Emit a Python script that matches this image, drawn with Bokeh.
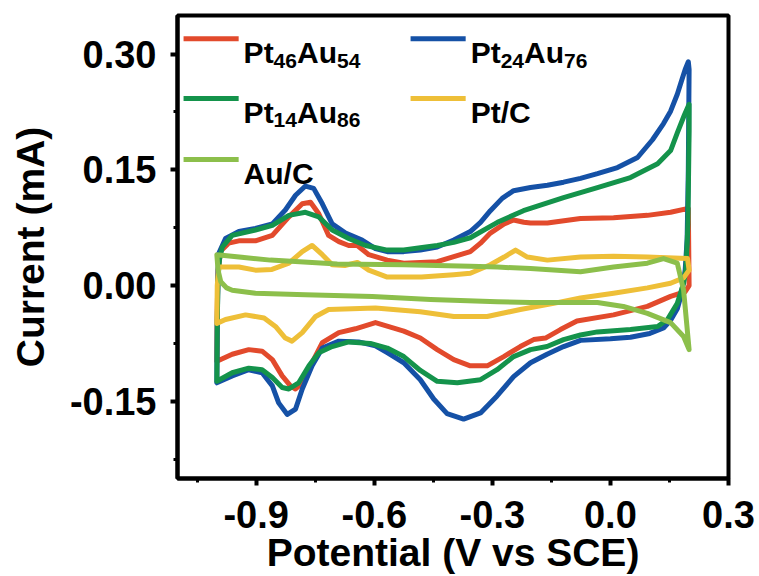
from bokeh.plotting import figure
from bokeh.models import Range1d, SingleIntervalTicker, NumeralTickFormatter, Label
from bokeh.embed import file_html
from bokeh.resources import INLINE

# ---------------- data ----------------
x_label = "Potential (V vs SCE)"
y_label = "Current (mA)"
x_ticks = [-0.9, -0.6, -0.3, 0.0, 0.3]
y_ticks = [-0.15, 0.0, 0.15, 0.30]

# Pt46Au54 (anodic sweep then cathodic sweep)
red_x = [-1.0, -0.999, -0.997, -0.99, -0.97, -0.944, -0.902, -0.859, -0.817, -0.783, -0.762, -0.741,
         -0.716, -0.69, -0.665, -0.643, -0.614, -0.567, -0.525, -0.44, -0.356, -0.33, -0.305, -0.27,
         -0.246, -0.22, -0.203, -0.16, -0.076, 0.008, 0.094, 0.153, 0.198,
         0.2, 0.19, 0.153, 0.094, 0.008, -0.085, -0.127, -0.165, -0.195, -0.229, -0.271, -0.313,
         -0.356, -0.398, -0.44, -0.483, -0.525, -0.597, -0.648, -0.69, -0.732, -0.758, -0.783, -0.8,
         -0.813, -0.834, -0.859, -0.885, -0.919, -0.961, -1.0]
red_y = [-0.098, -0.03, 0.02, 0.045, 0.055, 0.058, 0.058, 0.065, 0.089, 0.106, 0.108, 0.093,
         0.065, 0.057, 0.052, 0.052, 0.04, 0.033, 0.029, 0.031, 0.044, 0.055, 0.068, 0.08,
         0.085, 0.082, 0.081, 0.081, 0.087, 0.088, 0.091, 0.095, 0.1,
         0.0, -0.008, -0.014, -0.027, -0.038, -0.046, -0.057, -0.068, -0.07, -0.079, -0.092, -0.104,
         -0.104, -0.096, -0.083, -0.068, -0.059, -0.048, -0.056, -0.061, -0.074, -0.1, -0.126, -0.134,
         -0.13, -0.117, -0.096, -0.085, -0.083, -0.089, -0.098]

# Pt24Au76
blue_x = [-1.0, -0.999, -0.997, -0.995, -0.978, -0.944, -0.902, -0.859, -0.826, -0.8, -0.775, -0.754,
          -0.732, -0.707, -0.673, -0.631, -0.597, -0.567, -0.525, -0.483, -0.44, -0.398, -0.356, -0.33,
          -0.305, -0.275, -0.246, -0.203, -0.16, -0.119, -0.076, -0.033, 0.018, 0.069, 0.107, 0.135,
          0.153, 0.17, 0.18, 0.19, 0.198,
          0.2, 0.198, 0.195, 0.19, 0.18, 0.17, 0.153, 0.135, 0.1, 0.051, 0.0, -0.076, -0.119, -0.161,
          -0.203, -0.246, -0.288, -0.33, -0.373, -0.415, -0.449, -0.483, -0.525, -0.567, -0.597, -0.64,
          -0.69, -0.732, -0.758, -0.783, -0.8, -0.821, -0.843, -0.859, -0.885, -0.919, -0.961, -1.0]
blue_y = [-0.126, -0.05, 0.02, 0.042, 0.061, 0.07, 0.074, 0.08, 0.098, 0.117, 0.129, 0.126,
          0.106, 0.08, 0.068, 0.059, 0.048, 0.044, 0.044, 0.046, 0.05, 0.059, 0.07, 0.082,
          0.097, 0.113, 0.123, 0.127, 0.13, 0.134, 0.139, 0.145, 0.153, 0.166, 0.189, 0.21,
          0.226, 0.248, 0.264, 0.28, 0.29,
          0.28, 0.15, 0.06, 0.02, -0.012, -0.03, -0.045, -0.055, -0.062, -0.067, -0.069, -0.071, -0.079, -0.089,
          -0.1, -0.118, -0.143, -0.165, -0.173, -0.166, -0.147, -0.122, -0.1, -0.087, -0.078, -0.073,
          -0.072, -0.081, -0.104, -0.134, -0.16, -0.167, -0.152, -0.13, -0.113, -0.109, -0.117, -0.126]

# Pt14Au86
green_x = [-1.0, -0.999, -0.997, -0.993, -0.986, -0.961, -0.902, -0.859, -0.817, -0.775, -0.741, -0.707,
           -0.665, -0.622, -0.567, -0.525, -0.483, -0.44, -0.398, -0.356, -0.287, -0.221, -0.119, -0.033,
           0.051, 0.12, 0.153, 0.17, 0.188, 0.2,
           0.2, 0.197, 0.192, 0.186, 0.17, 0.145, 0.12, 0.051, -0.033, -0.076, -0.119, -0.161, -0.203,
           -0.246, -0.288, -0.33, -0.389, -0.44, -0.483, -0.525, -0.567, -0.61, -0.665, -0.707, -0.741,
           -0.766, -0.792, -0.817, -0.834, -0.859, -0.885, -0.919, -0.961, -1.0]
green_y = [-0.124, -0.05, 0.01, 0.035, 0.05, 0.065, 0.072, 0.078, 0.091, 0.095, 0.089, 0.072,
           0.061, 0.052, 0.046, 0.046, 0.049, 0.052, 0.056, 0.062, 0.082, 0.097, 0.114, 0.127,
           0.14, 0.158, 0.175, 0.198, 0.221, 0.235,
           0.2, 0.08, 0.02, 0.003, -0.023, -0.044, -0.053, -0.057, -0.06, -0.064, -0.07, -0.079, -0.083,
           -0.092, -0.109, -0.122, -0.126, -0.124, -0.11, -0.092, -0.081, -0.075, -0.073, -0.079, -0.087,
           -0.104, -0.126, -0.134, -0.132, -0.119, -0.109, -0.107, -0.113, -0.124]

# Pt/C
yellow_x = [-1.0, -0.999, -0.995, -0.944, -0.902, -0.86, -0.817, -0.783, -0.758, -0.732, -0.707, -0.675,
            -0.643, -0.614, -0.567, -0.48, -0.398, -0.356, -0.305, -0.27, -0.241, -0.211, -0.16, -0.076,
            0.008, 0.094, 0.196,
            0.2, 0.186, 0.153, 0.094, 0.008, -0.076, -0.144, -0.229, -0.313, -0.398, -0.483, -0.597,
            -0.716, -0.749, -0.783, -0.809, -0.826, -0.851, -0.88, -0.927, -0.978, -1.0]
yellow_y = [-0.049, 0.0, 0.024, 0.024, 0.02, 0.021, 0.029, 0.044, 0.052, 0.04, 0.027, 0.026,
            0.03, 0.02, 0.011, 0.011, 0.014, 0.016, 0.027, 0.037, 0.046, 0.037, 0.033, 0.037,
            0.038, 0.037, 0.035,
            0.02, 0.01, 0.003, -0.003, -0.01, -0.016, -0.023, -0.031, -0.04, -0.04, -0.034, -0.029,
            -0.031, -0.04, -0.061, -0.072, -0.068, -0.053, -0.042, -0.038, -0.044, -0.049]

# Au/C
lime_x = [-1.0, -0.864, -0.694, -0.525, -0.356, -0.287, -0.203, -0.076, 0.008, 0.094, 0.135, 0.17,
          0.186, 0.2,
          0.186, 0.153, 0.094, 0.033, -0.033, -0.119, -0.203, -0.287, -0.457, -0.605, -0.775, -0.902,
          -0.961, -0.975, -0.99, -0.997, -1.0]
lime_y = [0.04, 0.033, 0.028, 0.027, 0.025, 0.024, 0.022, 0.018, 0.024, 0.029, 0.035, 0.029,
          -0.006, -0.083,
          -0.066, -0.048, -0.036, -0.027, -0.022, -0.022, -0.022, -0.021, -0.018, -0.014, -0.012, -0.01,
          -0.006, -0.003, 0.005, 0.02, 0.04]

# legend pieces: (text, is_subscript)
series = [
    ("red", [("Pt", False), ("46", True), ("Au", False), ("54", True)]),
    ("blue", [("Pt", False), ("24", True), ("Au", False), ("76", True)]),
    ("green", [("Pt", False), ("14", True), ("Au", False), ("86", True)]),
    ("yellow", [("Pt/C", False)]),
    ("lime", [("Au/C", False)]),
]

# ---------------- styles ----------------
colors = {"red": "#E24A2C", "blue": "#1551A6", "green": "#14934B", "yellow": "#EEBF38", "lime": "#8CBF4B"}
curves = {"red": (red_x, red_y), "blue": (blue_x, blue_y), "green": (green_x, green_y),
          "yellow": (yellow_x, yellow_y), "lime": (lime_x, lime_y)}
FONT = "Liberation Sans"
X0, X1, Y0, Y1 = -1.1, 0.3001, -0.25, 0.35

p = figure(output_backend="svg", toolbar_location=None,
           frame_width=551, frame_height=463,
           min_border_left=177, min_border_right=30, min_border_top=15, min_border_bottom=98,
           x_range=Range1d(X0, X1), y_range=Range1d(Y0, Y1))
p.background_fill_color = "white"
p.border_fill_color = "white"
p.xgrid.visible = False
p.ygrid.visible = False
p.outline_line_color = "black"
p.outline_line_width = 4
p.outline_line_alpha = 1.0

for key in ["red", "blue", "green", "yellow", "lime"]:
    xs, ys = curves[key]
    p.line(xs, ys, line_color=colors[key], line_width=5, line_join="round", line_cap="round")

p.xaxis.ticker = SingleIntervalTicker(interval=0.3, num_minor_ticks=2)
p.yaxis.ticker = SingleIntervalTicker(interval=0.15, num_minor_ticks=2)
p.xaxis.formatter = NumeralTickFormatter(format="0.0")
p.yaxis.formatter = NumeralTickFormatter(format="0.00")
p.xaxis.axis_label = x_label
p.yaxis.axis_label = y_label

for ax in [p.xaxis[0], p.yaxis[0]]:
    ax.axis_line_width = 4
    ax.axis_line_color = "black"
    ax.major_tick_line_width = 4
    ax.major_tick_out = 7
    ax.major_tick_in = 0
    ax.minor_tick_line_width = 3
    ax.minor_tick_out = 4
    ax.minor_tick_in = 0
    ax.major_label_text_font = FONT
    ax.major_label_text_font_style = "bold"
    ax.major_label_text_font_size = "38px"
    ax.major_label_text_color = "black"
    ax.axis_label_text_font = FONT
    ax.axis_label_text_font_style = "bold"
    ax.axis_label_text_font_size = "39px"
    ax.axis_label_text_color = "black"

p.xaxis.major_label_standoff = 15
p.xaxis.axis_label_standoff = 0
p.yaxis.major_label_standoff = 14
p.yaxis.axis_label_standoff = 15

# ---------------- legend (manual, with subscripts) ----------------
W = {"P": 0.667, "t": 0.333, "A": 0.722, "u": 0.611, "/": 0.278, "C": 0.722}
for d in "0123456789":
    W[d] = 0.556
MAIN, SUB = 30, 21
cols_fx = [0.011, 0.423]
rows_fy = [0.950, 0.821, 0.689]
line_len = 0.100
slots = [(0, 0), (1, 0), (0, 1), (1, 1), (0, 2)]


def fx(f):
    return X0 + f * (X1 - X0)


def fy(f):
    return Y0 + f * (Y1 - Y0)


for (key, pieces), (c, r) in zip(series, slots):
    yy = fy(rows_fy[r])
    p.segment(x0=[fx(cols_fx[c])], y0=[yy], x1=[fx(cols_fx[c] + line_len)], y1=[yy],
              line_color=colors[key], line_width=5)
    off = 0.0
    tx = fx(cols_fx[c] + line_len + 0.009)
    for text, sub in pieces:
        size = SUB if sub else MAIN
        p.add_layout(Label(x=tx, y=yy, x_offset=off, y_offset=(-22 if sub else -14),
                           text=text, text_font=FONT, text_font_style="bold",
                           text_font_size=f"{size}px", text_color="black",
                           text_baseline="alphabetic", text_align="left"))
        off += sum(W[ch] for ch in text) * size

open("out.html", "w").write(file_html(p, INLINE))
